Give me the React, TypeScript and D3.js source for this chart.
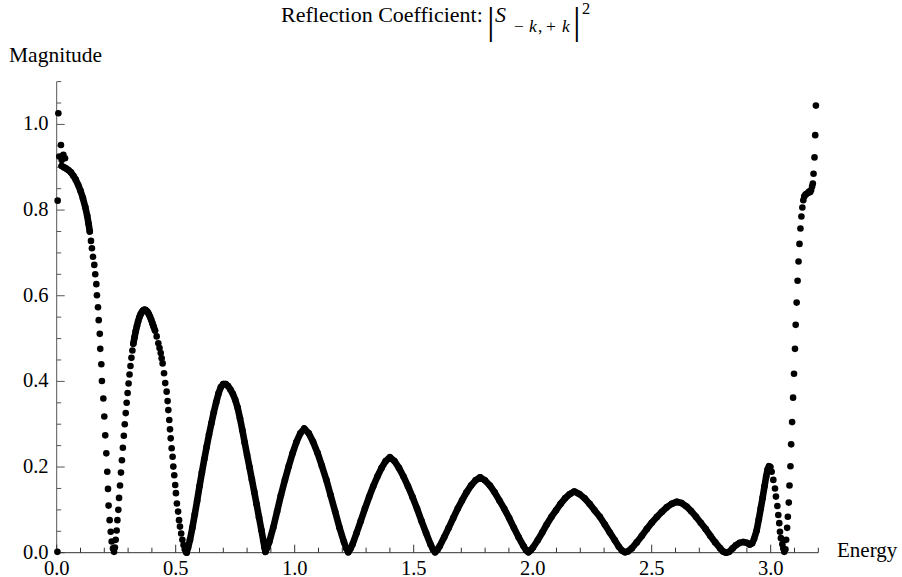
import React from "react";
import * as d3 from "d3";

// ---------- axis ticks ----------
const xMajorTicks = [0, 0.5, 1.0, 1.5, 2.0, 2.5, 3.0];
const xTickLabels = ["0.0", "0.5", "1.0", "1.5", "2.0", "2.5", "3.0"];
const xMinorTicks = [0.1, 0.2, 0.3, 0.4, 0.6, 0.7, 0.8, 0.9, 1.1, 1.2, 1.3, 1.4, 1.6, 1.7, 1.8, 1.9, 2.1, 2.2, 2.3, 2.4, 2.6, 2.7, 2.8, 2.9, 3.1, 3.2];
const yMajorTicks = [0, 0.2, 0.4, 0.6, 0.8, 1.0];
const yTickLabels = ["0.0", "0.2", "0.4", "0.6", "0.8", "1.0"];
const yMinorTicks = [0.05, 0.1, 0.15, 0.25, 0.3, 0.35, 0.45, 0.5, 0.55, 0.65, 0.7, 0.75, 0.85, 0.9, 0.95, 1.05, 1.1];

// ---------- data (Energy, |S|^2) ----------
// scattered points right at E ~ 0
const edgeEnergy = [0.003, 0.004, 0.007, 0.018, 0.011, 0.028, 0.035, 0.021];
const edgeMagnitude = [0.002, 0.822, 1.026, 0.952, 0.925, 0.929, 0.921, 0.917];

// dense band, first descent
const bandAEnergy = [0.021, 0.030, 0.040, 0.050, 0.060, 0.070, 0.080, 0.090, 0.100, 0.110, 0.120, 0.128, 0.134, 0.139];
const bandAMagnitude = [0.903, 0.900, 0.897, 0.893, 0.888, 0.880, 0.871, 0.859, 0.845, 0.828, 0.807, 0.787, 0.768, 0.750];

// separated points: steep descent to first zero and rise to first peak
const sparseAEnergy = [0.144, 0.148, 0.1525, 0.158, 0.162, 0.1665, 0.169, 0.1735, 0.1765, 0.181, 0.183, 0.1875, 0.190, 0.196, 0.200, 0.204, 0.2085, 0.2125, 0.2155, 0.218, 0.2225, 0.227, 0.231, 0.2365, 0.241,
  0.2445, 0.248, 0.252, 0.255, 0.259, 0.262, 0.266, 0.270, 0.274, 0.278, 0.282, 0.286, 0.290, 0.294, 0.298, 0.302, 0.306, 0.310, 0.314, 0.318];
const sparseAMagnitude = [0.728, 0.711, 0.691, 0.672, 0.650, 0.627, 0.601, 0.573, 0.543, 0.511, 0.476, 0.440, 0.401, 0.360, 0.318, 0.274, 0.232, 0.189, 0.149, 0.110, 0.076, 0.049, 0.026, 0.010, 0.002,
  0.012, 0.030, 0.052, 0.076, 0.100, 0.128, 0.157, 0.187, 0.216, 0.245, 0.273, 0.300, 0.326, 0.350, 0.373, 0.395, 0.416, 0.436, 0.455, 0.472];

// dense band around first peak
const bandBEnergy = [0.322, 0.327, 0.332, 0.337, 0.342, 0.347, 0.352, 0.357, 0.362, 0.367, 0.372, 0.377, 0.382, 0.387, 0.392, 0.397, 0.402, 0.407, 0.413];
const bandBMagnitude = [0.488, 0.503, 0.517, 0.529, 0.540, 0.549, 0.556, 0.561, 0.565, 0.567, 0.567, 0.565, 0.562, 0.557, 0.551, 0.544, 0.536, 0.528, 0.519];

// separated points: descent to second zero
const sparseBEnergy = [0.420, 0.427, 0.432, 0.437, 0.441, 0.445, 0.451, 0.456, 0.462, 0.466, 0.469, 0.473, 0.476, 0.479, 0.483, 0.487, 0.490, 0.494, 0.498, 0.501, 0.505, 0.510, 0.514, 0.518, 0.523, 0.528, 0.533, 0.538, 0.543];
const sparseBMagnitude = [0.505, 0.489, 0.478, 0.466, 0.454, 0.442, 0.419, 0.396, 0.376, 0.354, 0.333, 0.310, 0.288, 0.267, 0.244, 0.224, 0.201, 0.181, 0.158, 0.139, 0.115, 0.096, 0.076, 0.061, 0.045, 0.030, 0.018, 0.008, 0.002];

// dense band, oscillating part
const bandCEnergy = [
  0.546, 0.552, 0.560, 0.570, 0.580, 0.590, 0.600, 0.610, 0.620, 0.630, 0.640, 0.650, 0.660, 0.670, 0.680, 0.690, 0.700, 0.710, 0.720, 0.730, 0.740, 0.750, 0.760, 0.770, 0.780, 0.790, 0.800, 0.810, 0.820, 0.830, 0.840, 0.850, 0.860, 0.868, 0.873, 0.877,
  0.885, 0.893, 0.910, 0.926, 0.942, 0.959, 0.975, 0.991, 1.007, 1.024, 1.040, 1.059, 1.077, 1.096, 1.114, 1.133, 1.151, 1.170, 1.188, 1.207, 1.216, 1.225,
  1.234, 1.2425, 1.260, 1.2775, 1.295, 1.3125, 1.330, 1.3475, 1.365, 1.3825, 1.400, 1.419, 1.438, 1.457, 1.476, 1.495, 1.514, 1.533, 1.552, 1.571, 1.581, 1.590,
  1.600, 1.609, 1.628, 1.647, 1.666, 1.685, 1.703, 1.722, 1.741, 1.760, 1.779, 1.799, 1.820, 1.840, 1.860, 1.880, 1.901, 1.921, 1.941, 1.962, 1.972, 1.982,
  1.992, 2.001, 2.021, 2.040, 2.059, 2.079, 2.098, 2.117, 2.136, 2.156, 2.175, 2.196, 2.218, 2.239, 2.260, 2.282, 2.303, 2.324, 2.345, 2.362, 2.375, 2.388, 2.400,
  2.416, 2.437, 2.458, 2.479, 2.500, 2.521, 2.542, 2.563, 2.584, 2.605, 2.625, 2.646, 2.666, 2.686, 2.706, 2.727, 2.747, 2.767, 2.788, 2.800, 2.812,
  2.825, 2.840, 2.855, 2.870, 2.885, 2.900, 2.912, 2.922, 2.930, 2.941, 2.950, 2.958, 2.966, 2.974, 2.981, 2.987, 2.993, 2.998];
const bandCMagnitude = [
  0.000, 0.012, 0.030, 0.058, 0.089, 0.121, 0.155, 0.187, 0.218, 0.247, 0.276, 0.302, 0.328, 0.351, 0.372, 0.387, 0.394, 0.394, 0.389, 0.381, 0.371, 0.357, 0.339, 0.314, 0.286, 0.257, 0.228, 0.200, 0.171, 0.142, 0.113, 0.083, 0.053, 0.029, 0.013, 0.002,
  0.012, 0.025, 0.059, 0.096, 0.134, 0.170, 0.202, 0.232, 0.258, 0.279, 0.290, 0.279, 0.259, 0.233, 0.203, 0.170, 0.134, 0.096, 0.059, 0.025, 0.011, 0.001,
  0.009, 0.019, 0.046, 0.074, 0.103, 0.130, 0.155, 0.178, 0.198, 0.214, 0.223, 0.214, 0.198, 0.178, 0.155, 0.130, 0.103, 0.074, 0.046, 0.019, 0.008, 0.001,
  0.007, 0.015, 0.036, 0.058, 0.081, 0.103, 0.122, 0.141, 0.157, 0.169, 0.176, 0.169, 0.157, 0.141, 0.122, 0.103, 0.081, 0.058, 0.036, 0.015, 0.006, 0.001,
  0.006, 0.012, 0.029, 0.047, 0.066, 0.084, 0.099, 0.114, 0.127, 0.137, 0.143, 0.137, 0.127, 0.114, 0.099, 0.084, 0.066, 0.047, 0.029, 0.014, 0.005, 0.001, 0.003,
  0.010, 0.024, 0.039, 0.055, 0.070, 0.083, 0.095, 0.106, 0.114, 0.119, 0.116, 0.108, 0.097, 0.084, 0.070, 0.055, 0.039, 0.024, 0.010, 0.003, 0.000,
  0.002, 0.010, 0.018, 0.023, 0.025, 0.023, 0.019, 0.022, 0.032, 0.052, 0.078, 0.103, 0.128, 0.155, 0.178, 0.194, 0.202, 0.200];

// separated points near the upper band edge
const sparseCEnergy = [3.004, 3.011, 3.018, 3.022, 3.028, 3.032, 3.036, 3.039, 3.043, 3.049, 3.053, 3.057,
  3.062, 3.065, 3.069, 3.072, 3.076, 3.079, 3.083, 3.086, 3.090, 3.094, 3.098, 3.102, 3.105, 3.109, 3.113, 3.117, 3.121, 3.125, 3.129, 3.133, 3.137,
  3.141, 3.146, 3.151, 3.156, 3.161, 3.166, 3.170, 3.174, 3.177, 3.180, 3.184, 3.187, 3.190];
const sparseCMagnitude = [0.189, 0.170, 0.150, 0.131, 0.109, 0.088, 0.069, 0.049, 0.034, 0.020, 0.010, 0.002,
  0.008, 0.030, 0.058, 0.084, 0.117, 0.157, 0.202, 0.253, 0.305, 0.362, 0.418, 0.476, 0.532, 0.584, 0.635, 0.680, 0.721, 0.757, 0.785, 0.806, 0.823,
  0.832, 0.836, 0.838, 0.840, 0.843, 0.842, 0.847, 0.855, 0.862, 0.885, 0.923, 0.975, 1.044];

const denseSets: [number[], number[]][] = [
  [bandAEnergy, bandAMagnitude],
  [bandBEnergy, bandBMagnitude],
  [bandCEnergy, bandCMagnitude],
];
const allSets: [number[], number[]][] = [
  [edgeEnergy, edgeMagnitude],
  [bandAEnergy, bandAMagnitude],
  [sparseAEnergy, sparseAMagnitude],
  [bandBEnergy, bandBMagnitude],
  [sparseBEnergy, sparseBMagnitude],
  [bandCEnergy, bandCMagnitude],
  [sparseCEnergy, sparseCMagnitude],
];

const W = 902;
const H = 577;
const FONT = "'Liberation Serif', 'Times New Roman', Times, serif";

export default function App() {
  const x = d3.scaleLinear().domain([0, 3.2]).range([56.7, 818.3]);
  const y = d3.scaleLinear().domain([0, 1.1]).range([552.7, 81.6]);
  const line = d3
    .line<[number, number]>()
    .x((d) => x(d[0]))
    .y((d) => y(d[1]));
  const R = 3.3;
  const axisY = y(0);
  const axisX = x(0);

  return (
    <div style={{ position: "absolute", left: 0, top: 0, width: W, height: H, background: "#fff" }}>
      <svg width={W} height={H} viewBox={`0 0 ${W} ${H}`} style={{ display: "block" }} fontFamily={FONT}>
        <rect x={0} y={0} width={W} height={H} fill="#fff" />
        {/* title */}
        <g fill="#000">
          <text x={281} y={22} fontSize={22}>Reflection Coefficient:</text>
          <text x={487} y={34} fontSize={38}>|</text>
          <text x={495} y={22} fontSize={22} fontStyle="italic">S</text>
          <text x={514} y={32} fontSize={17.5}>−</text>
          <text x={529} y={32} fontSize={17.5} fontStyle="italic">k</text>
          <text x={538} y={32} fontSize={17.5}>,</text>
          <text x={546} y={32} fontSize={17.5}>+</text>
          <text x={562} y={32} fontSize={17.5} fontStyle="italic">k</text>
          <text x={573} y={34} fontSize={38}>|</text>
          <text x={582} y={14} fontSize={16.5}>2</text>
        </g>
        {/* axis labels */}
        <text x={9} y={62} fontSize={21.5} fill="#000">Magnitude</text>
        <text x={837} y={557} fontSize={21} fill="#000">Energy</text>

        {/* y axis */}
        <line x1={axisX} x2={axisX} y1={y(1.1)} y2={axisY} stroke="#555" strokeWidth={1} />
        {yMajorTicks.map((t, i) => (
          <g key={"ym" + i}>
            <line x1={axisX} x2={axisX + 8} y1={y(t)} y2={y(t)} stroke="#555" strokeWidth={1} />
            <text x={48.5} y={y(t) + 6} textAnchor="end" fontSize={20.5} fill="#000">{yTickLabels[i]}</text>
          </g>
        ))}
        {yMinorTicks.map((t, i) => (
          <line key={"yn" + i} x1={axisX} x2={axisX + 4.5} y1={y(t)} y2={y(t)} stroke="#555" strokeWidth={1} />
        ))}

        {/* x axis */}
        <line x1={axisX} x2={x(3.2)} y1={axisY} y2={axisY} stroke="#333" strokeWidth={1} />
        {xMajorTicks.map((t, i) => (
          <g key={"xm" + i}>
            <line x1={x(t)} x2={x(t)} y1={axisY} y2={axisY - 8} stroke="#333" strokeWidth={1} />
            <text x={x(t)} y={574.5} textAnchor="middle" fontSize={20.5} fill="#000">{xTickLabels[i]}</text>
          </g>
        ))}
        {xMinorTicks.map((t, i) => (
          <line key={"xn" + i} x1={x(t)} x2={x(t)} y1={axisY} y2={axisY - 5} stroke="#333" strokeWidth={1} />
        ))}

        {/* dense bands */}
        {denseSets.map(([es, ms], k) => (
          <path
            key={"band" + k}
            d={line(es.map((e, i) => [e, ms[i]] as [number, number])) || ""}
            fill="none"
            stroke="#000"
            strokeWidth={2 * R}
            strokeLinejoin="round"
            strokeLinecap="round"
          />
        ))}
        {/* points */}
        {allSets.map(([es, ms], k) => (
          <g key={"pts" + k}>
            {es.map((e, i) => (
              <circle key={i} cx={x(e)} cy={y(ms[i])} r={R} fill="#000" />
            ))}
          </g>
        ))}
      </svg>
    </div>
  );
}
